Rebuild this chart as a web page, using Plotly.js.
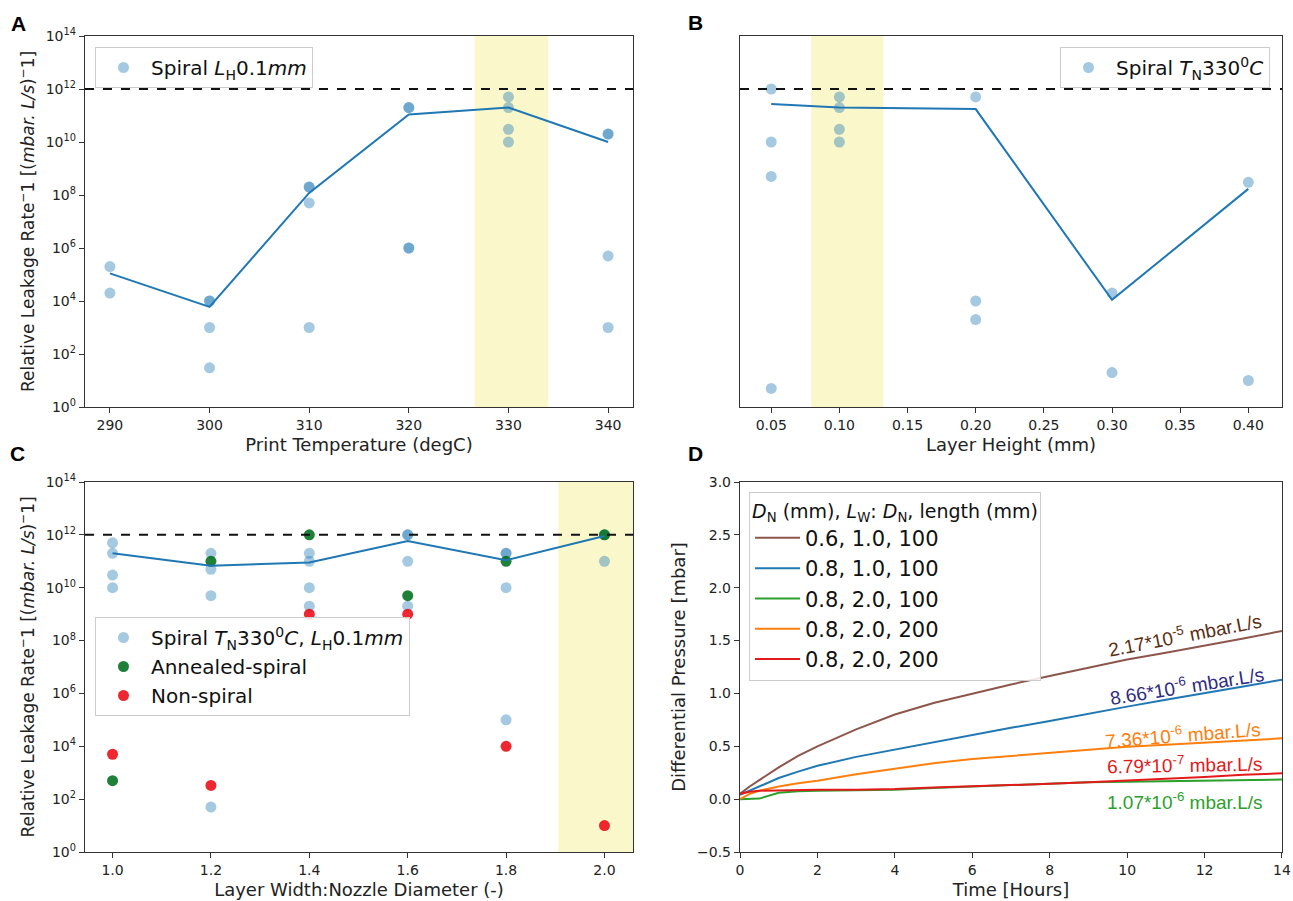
<!DOCTYPE html>
<html><head><meta charset="utf-8">
<script src="https://cdn.plot.ly/plotly-3.0.1.min.js"></script>
<style>html,body{margin:0;padding:0;background:#fff}#chart{width:1293px;height:901px}</style>
</head><body><div id="chart"></div>
<script>
// ---------- Panel A: print temperature ----------
const tempX = [290,290,300,300,300,300,310,310,310,310,320,320,320,320,330,330,330,330,340,340,340,340];
const tempY = [2e5,2e4,1e4,1e4,1e3,3e1,2e8,2e8,5e7,1e3,2e11,2e11,1e6,1e6,5e11,2e11,3e10,1e10,2e10,2e10,5e5,1e3];
const tempLineX = [290,300,310,320,330,340];
const tempLineY = [1.1e5,6e3,1.2e8,1.1e11,2e11,1e10];
const tempTicks = [290,300,310,320,330,340];
const tempRange = [287.5,342.5];
const tempBand = [326.6,334];

// ---------- Panel B: layer height ----------
const heightX = [0.05,0.05,0.05,0.05,0.10,0.10,0.10,0.10,0.20,0.20,0.20,0.30,0.30,0.40,0.40];
const heightY = [1e12,1e10,5e8,5,5e11,2e11,3e10,1e10,5e11,1e4,2e3,2e4,2e1,3e8,1e1];
const heightLineX = [0.05,0.10,0.20,0.30,0.40];
const heightLineY = [2.7e11,2e11,1.75e11,1.1e4,1.7e8];
const heightTicks = [0.05,0.10,0.15,0.20,0.25,0.30,0.35,0.40];
const heightRange = [0.0271,0.4247];
const heightBand = [0.0793,0.1323];

// ---------- Panel C: layer width : nozzle diameter ----------
const ratioSpiralX = [1.0,1.0,1.0,1.0,1.2,1.2,1.2,1.2,1.4,1.4,1.4,1.4,1.6,1.6,1.6,1.6,1.8,1.8,1.8,1.8,2.0,2.0];
const ratioSpiralY = [5e11,2e11,3e10,1e10,2e11,5e10,5e9,5e1,2e11,1e11,1e10,2e9,1e12,1e12,1e11,2e9,2e11,2e11,1e10,1e5,1e12,1e11];
const ratioAnnealedX = [1.0,1.2,1.4,1.6,1.8,2.0];
const ratioAnnealedY = [5e2,1e11,1e12,5e9,1e11,1e12];
const ratioNonSpiralX = [1.0,1.2,1.4,1.6,1.8,2.0];
const ratioNonSpiralY = [5e3,3.3e2,1e9,1e9,1e4,1e1];
const ratioLineX = [1.0,1.2,1.4,1.6,1.8,2.0];
const ratioLineY = [2e11,6.8e10,9e10,5.9e11,1.1e11,9e11];
const ratioTicks = [1.0,1.2,1.4,1.6,1.8,2.0];
const ratioRange = [0.944,2.058];
const ratioBand = [1.906,2.058];

const threshold = 1e12;
const logTickVals = [1,1e2,1e4,1e6,1e8,1e10,1e12,1e14];
const logTickText = ['10<sup>0</sup>','10<sup>2</sup>','10<sup>4</sup>','10<sup>6</sup>','10<sup>8</sup>','10<sup>10</sup>','10<sup>12</sup>','10<sup>14</sup>'];

// ---------- Panel D: differential pressure over time ----------
const timeH = [0,0.25,0.5,1,1.5,2,3,4,5,6,7,8,9,10,11,12,13,14];
const dp_06_10_100 = [0.05,0.12,0.18,0.30,0.41,0.50,0.66,0.80,0.91,1.00,1.085,1.165,1.245,1.32,1.385,1.45,1.52,1.59];
const dp_08_10_100 = [0.04,0.08,0.12,0.20,0.26,0.315,0.40,0.47,0.54,0.61,0.675,0.74,0.81,0.875,0.94,1.00,1.065,1.13];
const dp_08_20_100 = [0.0,0.0,0.005,0.06,0.075,0.08,0.085,0.09,0.105,0.12,0.135,0.15,0.16,0.165,0.17,0.175,0.18,0.185];
const dp_08_20_200a = [0.0,0.05,0.08,0.12,0.15,0.175,0.235,0.29,0.34,0.38,0.41,0.44,0.47,0.495,0.515,0.535,0.555,0.575];
const dp_08_20_200b = [0.05,0.07,0.08,0.085,0.09,0.09,0.09,0.095,0.11,0.12,0.13,0.145,0.16,0.175,0.19,0.21,0.23,0.245];
const dLegendNames = ['0.6, 1.0, 100','0.8, 1.0, 100','0.8, 2.0, 100','0.8, 2.0, 200','0.8, 2.0, 200'];
const rateLabels = ['2.17*10<sup>-5</sup> mbar.L/s','8.66*10<sup>-6</sup> mbar.L/s','7.36*10<sup>-6</sup> mbar.L/s','6.79*10<sup>-7</sup> mbar.L/s','1.07*10<sup>-6</sup> mbar.L/s'];
const rateLabelX = [11.5,11.55,11.45,11.5,11.5];
const rateLabelY = [1.56,1.08,0.615,0.33,-0.02];
const rateLabelAngle = [-11,-9,-4.5,-1,0];
const dTicksX = [0,2,4,6,8,10,12,14];
const dTicksY = [-0.5,0,0.5,1,1.5,2,2.5,3];
const dRangeX = [0,14.0005];

// ---------- styles ----------
const W = 1293, H = 901;
const spiralColor = 'rgba(31,119,180,0.4)';
const lineBlue = '#1f77b4';
const FONT = 'DejaVu Sans, Liberation Sans, sans-serif';

function spiralTrace(x, y, xa, ya, name, legend, show) {
  return {x:x, y:y, xaxis:xa, yaxis:ya, type:'scatter', mode:'markers', name:name,
    legend:legend, showlegend:show,
    marker:{size:11, color:spiralColor, line:{width:0}}};
}
function meanLine(x, y, xa, ya) {
  return {x:x, y:y, xaxis:xa, yaxis:ya, type:'scatter', mode:'lines', showlegend:false,
    line:{color:lineBlue, width:2}};
}
function thresh(range, xa, ya) {
  return {x:range, y:[threshold,threshold], xaxis:xa, yaxis:ya, type:'scatter', mode:'lines',
    showlegend:false, line:{color:'#111', width:2, dash:'dash'}};
}

const traces = [
  spiralTrace(tempX, tempY, 'x', 'y', 'Spiral <i>L</i><sub>H</sub>0.1<i>mm</i>', 'legend', true),
  meanLine(tempLineX, tempLineY, 'x', 'y'),
  thresh(tempRange, 'x', 'y'),
  spiralTrace(heightX, heightY, 'x2', 'y2', 'Spiral <i>T</i><sub>N</sub>330<sup>0</sup><i>C</i>', 'legend2', true),
  meanLine(heightLineX, heightLineY, 'x2', 'y2'),
  thresh(heightRange, 'x2', 'y2'),
  spiralTrace(ratioSpiralX, ratioSpiralY, 'x3', 'y3', 'Spiral <i>T</i><sub>N</sub>330<sup>0</sup><i>C</i>, <i>L</i><sub>H</sub>0.1<i>mm</i>', 'legend3', true),
  {x:ratioAnnealedX, y:ratioAnnealedY, xaxis:'x3', yaxis:'y3', type:'scatter', mode:'markers',
    name:'Annealed-spiral', legend:'legend3', marker:{size:11, color:'rgba(0,110,30,0.88)'}},
  {x:ratioNonSpiralX, y:ratioNonSpiralY, xaxis:'x3', yaxis:'y3', type:'scatter', mode:'markers',
    name:'Non-spiral', legend:'legend3', marker:{size:11, color:'rgba(235,10,20,0.88)'}},
  meanLine(ratioLineX, ratioLineY, 'x3', 'y3'),
  thresh(ratioRange, 'x3', 'y3'),
];
const dSeries = [dp_06_10_100, dp_08_10_100, dp_08_20_100, dp_08_20_200a, dp_08_20_200b];
const dColors = ['#8c564b','#1f77b4','#2ca02c','#ff7f0e','#e31a1c'];
dSeries.forEach((s,i)=>{
  traces.push({x:timeH, y:s, xaxis:'x4', yaxis:'y4', type:'scatter', mode:'lines',
    name:dLegendNames[i], legend:'legend4', line:{color:dColors[i], width:2}});
});

const ax = (extra)=>Object.assign({
  showline:true, mirror:true, linecolor:'#333', linewidth:1.2, ticks:'outside', ticklen:5,
  tickcolor:'#333', showgrid:false, zeroline:false, automargin:false, ticklabeloverflow:'allow',
  tickfont:{family:FONT, size:14, color:'#222'}
}, extra);
const titleFont = {family:FONT, size:18, color:'#222'};
const yTitle = 'Relative Leakage Rate<sup>−</sup>1 [(<i>mbar. L/s</i>)<sup>−</sup>1]';

const domXL = [85/W, 633/W], domXR = [740/W, 1282/W];
const domYT = [1-407/H, 1-36/H], domYB = [1-852/H, 1-482/H];

const legendBase = {bgcolor:'rgba(255,255,255,0.85)', bordercolor:'#ccc', borderwidth:1,
  itemwidth:45, font:{family:FONT, size:20, color:'#111'}};

const bandShape = (band, xref, yref)=>({type:'rect', xref:xref, yref:yref+' domain',
  x0:band[0], x1:band[1], y0:0, y1:1, fillcolor:'rgba(245,240,160,0.55)', line:{width:0}, layer:'below'});

const annotations = [
  {text:'<b>A</b>', x:18/W, y:1-24/H},
  {text:'<b>B</b>', x:695/W, y:1-23/H},
  {text:'<b>C</b>', x:17/W, y:1-453/H},
  {text:'<b>D</b>', x:695/W, y:1-453/H},
].map(a=>Object.assign(a,{xref:'paper', yref:'paper', showarrow:false, xanchor:'center', yanchor:'middle',
  font:{family:'Liberation Sans, Arial, sans-serif', size:21, color:'#000'}}));
const rateColors = ['#5a2d12','#2e2a82','#ff7f0e','#e31a1c','#2ca02c'];
rateLabels.forEach((t,i)=>{
  annotations.push({text:t, x:rateLabelX[i], y:rateLabelY[i], xref:'x4', yref:'y4', showarrow:false,
    textangle:rateLabelAngle[i], xanchor:'center', yanchor:'middle',
    font:{family:'Liberation Sans, Arial, sans-serif', size:19, color:rateColors[i]}});
});

const layout = {
  width:W, height:H, margin:{l:0,r:0,t:0,b:0}, paper_bgcolor:'#fff', plot_bgcolor:'#fff',
  font:{family:FONT, color:'#222'},
  xaxis: ax({domain:domXL, anchor:'y', range:tempRange, tickvals:tempTicks,
    title:{text:'Print Temperature (degC)', font:titleFont, standoff:6}}),
  yaxis: ax({domain:domYT, anchor:'x', type:'log', range:[0,14], tickvals:logTickVals, ticktext:logTickText,
    title:{text:yTitle, font:Object.assign({},titleFont,{size:17}), standoff:6}}),
  xaxis2: ax({domain:domXR, anchor:'y2', range:heightRange, tickvals:heightTicks, tickformat:'.2f',
    title:{text:'Layer Height (mm)', font:titleFont, standoff:6}}),
  yaxis2: ax({domain:domYT, anchor:'x2', type:'log', range:[0,14], showticklabels:false, ticks:''}),
  xaxis3: ax({domain:domXL, anchor:'y3', range:ratioRange, tickvals:ratioTicks, tickformat:'.1f',
    title:{text:'Layer Width:Nozzle Diameter (-)', font:titleFont, standoff:6}}),
  yaxis3: ax({domain:domYB, anchor:'x3', type:'log', range:[0,14], tickvals:logTickVals, ticktext:logTickText,
    title:{text:yTitle, font:Object.assign({},titleFont,{size:17}), standoff:6}}),
  xaxis4: ax({domain:domXR, anchor:'y4', range:dRangeX, tickvals:dTicksX,
    title:{text:'Time [Hours]', font:titleFont, standoff:6}}),
  yaxis4: ax({domain:domYB, anchor:'x4', range:[-0.5,3], tickvals:dTicksY, tickformat:'.1f',
    title:{text:'Differential Pressure [mbar]', font:titleFont, standoff:6}}),
  shapes:[bandShape(tempBand,'x','y'), bandShape(heightBand,'x2','y2'), bandShape(ratioBand,'x3','y3')],
  annotations: annotations,
  legend: Object.assign({}, legendBase, {x:95/W, y:1-47/H, xanchor:'left', yanchor:'top'}),
  legend2: Object.assign({}, legendBase, {x:1270/W, y:1-47/H, xanchor:'right', yanchor:'top'}),
  legend3: Object.assign({}, legendBase, {x:95/W, y:1-617/H, xanchor:'left', yanchor:'top'}),
  legend4: Object.assign({}, legendBase, {x:749/W, y:1-492/H, xanchor:'left', yanchor:'top',
    font:{family:FONT, size:21, color:'#111'},
    title:{text:'<i>D</i><sub>N</sub> (mm), <i>L</i><sub>W</sub>: <i>D</i><sub>N</sub>, length (mm)', font:{family:FONT, size:19, color:'#111'}}}),
  hovermode:false,
};
Plotly.newPlot('chart', traces, layout, {displayModeBar:false, staticPlot:true});
</script>
</body></html>
